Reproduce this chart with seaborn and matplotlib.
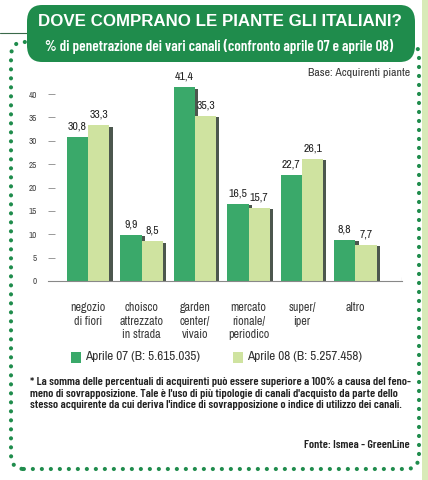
import matplotlib
matplotlib.use("Agg")
import matplotlib.pyplot as plt
import matplotlib.patheffects as pe
from matplotlib.patches import FancyBboxPatch, Rectangle
from matplotlib.lines import Line2D
import seaborn as sns
import pandas as pd

categories = ["negozio\ndi fiori", "choisco\nattrezzato\nin strada", "garden\ncenter/\nvivaio",
              "mercato\nrionale/\nperiodico", "super/\niper", "altro"]
series_names = ["Aprile 07 (B: 5.615.035)", "Aprile 08 (B: 5.257.458)"]
values_07 = [30.8, 9.9, 41.4, 16.5, 22.7, 8.8]
values_08 = [33.3, 8.5, 35.3, 15.7, 26.1, 7.7]
y_ticks = [0, 5, 10, 15, 20, 25, 30, 35, 40]

DARK = "#3aa96a"
LIGHT = "#cfe3a0"
HEAD = "#1f8c4c"
DOT = "#1f8c4c"

sns.set_theme(style="white")
NARROW = ["Archivo Narrow", "DejaVu Sans"]
COND = ["Barlow Condensed", "DejaVu Sans"]
plt.rcParams["font.family"] = ["Liberation Sans", "DejaVu Sans"]

W, H = 428, 480
fig = plt.figure(figsize=(W / 100, H / 100), dpi=100)
fig.patch.set_facecolor("white")

def fx(px):
    return px / W

def fy(py):
    return 1 - py / H

# Plot area
y0_px, unit = 281, 4.675
top_px = y0_px - 44 * unit
ax = fig.add_axes([fx(48), fy(y0_px), fx(402) - fx(48), (y0_px - top_px) / H])

df = pd.DataFrame({
    "cat": categories * 2,
    "val": values_07 + values_08,
    "serie": [series_names[0]] * len(categories) + [series_names[1]] * len(categories),
})
sns.barplot(data=df, x="cat", y="val", hue="serie", palette=[DARK, LIGHT],
            ax=ax, width=0.8, saturation=1, legend=False, edgecolor="none")

for p in ax.patches:
    p.set_path_effects([pe.SimplePatchShadow(offset=(2.2, -1), shadow_rgbFace="#2d3a2f", alpha=0.85),
                        pe.Normal()])

for cont in ax.containers:
    ax.bar_label(cont, labels=[f"{v:.1f}".replace(".", ",") for v in cont.datavalues],
                 padding=4, fontsize=8.5, fontweight="bold", color="#222222", family=NARROW)

ax.set_xlim(-0.75, 5.87)
ax.set_ylim(0, 44)
ax.set_yticks(y_ticks)
ax.set_yticklabels([str(t) for t in y_ticks], fontsize=6.5, color="#444444", family=NARROW)
ax.tick_params(axis="y", direction="in", length=5, width=0.6, color="#888888", pad=8, left=True)
ax.set_xticks(range(len(categories)))
ax.set_xticklabels(categories, fontsize=8.7, color="#3a3a3a", family=NARROW, linespacing=1.3,
                   va="top")
ax.tick_params(axis="x", length=0, pad=15)
ax.set_xlabel("")
ax.set_ylabel("")
for s in ["top", "right", "left"]:
    ax.spines[s].set_visible(False)
ax.spines["bottom"].set_color("#888888")
ax.spines["bottom"].set_linewidth(0.8)
ax.add_line(Line2D([1, 1], [0, 0.018], transform=ax.transAxes, color="#888888", lw=0.8))
ax.patch.set_alpha(0)

# Dotted frame
frame = FancyBboxPatch((fx(11), fy(469)), fx(419) - fx(11), fy(42) - fy(469),
                       boxstyle="round,pad=0,rounding_size=0.03", transform=fig.transFigure,
                       fill=False, edgecolor=DOT, linewidth=3.0, linestyle=(0, (0.01, 2.15)),
                       capstyle="round", zorder=1)
fig.patches.append(frame)

# Header box
head = FancyBboxPatch((fx(27), fy(62)), fx(415) - fx(27), fy(5) - fy(62),
                      boxstyle="round,pad=0,rounding_size=0.035", transform=fig.transFigure,
                      facecolor=HEAD, edgecolor="none", zorder=3)
fig.patches.append(head)
fig.add_artist(Line2D([0, fx(27)], [fy(33), fy(33)], color="#3a6a4a", lw=0.8))
fig.patches.append(Rectangle((fx(422), 0), fx(428) - fx(422), 1, transform=fig.transFigure,
                             facecolor="#d8eab8", edgecolor="none"))
fig.text(fx(220), fy(22), "DOVE COMPRANO LE PIANTE GLI ITALIANI?", ha="center", va="center",
         color="white", fontsize=12.2, fontweight="bold", zorder=4)
fig.text(fx(219), fy(46), "% di penetrazione dei vari canali (confronto aprile 07 e aprile 08)",
         ha="center", va="center", color="white", fontsize=10.8, fontweight="semibold",
         family=COND, zorder=4)

fig.text(fx(410), fy(73), "Base: Acquirenti piante", ha="right", va="center",
         fontsize=8.5, color="#333333", family=NARROW)

# Legend
for xs, col, lab in [(71, DARK, series_names[0]), (233, LIGHT, series_names[1])]:
    fig.patches.append(Rectangle((fx(xs), fy(363)), fx(10), 11 / H, transform=fig.transFigure,
                                 facecolor=col, edgecolor="none"))
    fig.text(fx(xs + 14), fy(357), lab, ha="left", va="center", fontsize=9.5,
             color="#333333", family=NARROW)

note = ("* La somma delle percentuali di acquirenti può essere superiore a 100% a causa del feno-\n"
        "meno di sovrapposizione. Tale è l'uso di più tipologie di canali d'acquisto da parte dello\n"
        "stesso acquirente da cui deriva l'indice di sovrapposizione o indice di utilizzo dei canali.")
fig.text(fx(30), fy(377), note, ha="left", va="top", fontsize=8.6, fontweight="semibold",
         color="#222222", family=COND, linespacing=1.2)
fig.text(fx(410), fy(445), "Fonte: Ismea - GreenLine", ha="right", va="center", fontsize=8.6,
         fontweight="semibold", color="#222222", family=COND)

fig.savefig("out.png", dpi=100, facecolor="white")
